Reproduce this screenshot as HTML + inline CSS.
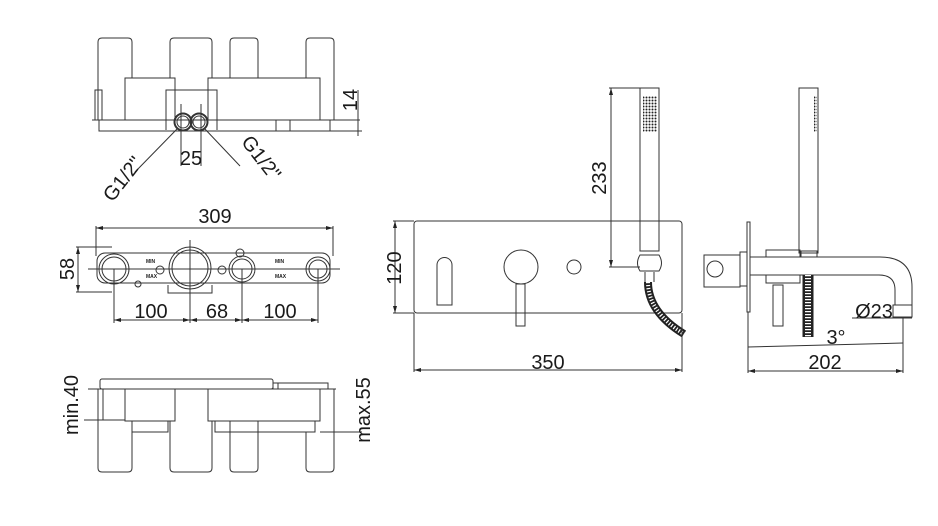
<!DOCTYPE html>
<html><head><meta charset="utf-8"><style>
html,body{margin:0;padding:0;background:#fff}
svg{display:block}
text{font-family:"Liberation Sans",sans-serif;fill:#1a1a1a}
</style></head><body>
<svg width="938" height="526" viewBox="0 0 938 526" xmlns="http://www.w3.org/2000/svg">
<defs>
<pattern id="dots" width="3" height="3" patternUnits="userSpaceOnUse"><circle cx="1.5" cy="1.5" r="1" fill="#222"/></pattern>
</defs>
<g fill="none" stroke="#333" stroke-width="1">
<!-- TOP VIEW -->
<path d="M98,120 V42 q0,-4 4,-4 h26 q4,0 4,4 V78"/>
<path d="M170,78 V42 q0,-4 4,-4 h34 q4,0 4,4 V78"/>
<path d="M230,78 V42 q0,-4 4,-4 h20 q4,0 4,4 V78"/>
<path d="M306,78 V42 q0,-4 4,-4 h20 q4,0 4,4 V120"/>
<rect x="125" y="78" width="50" height="42"/>
<rect x="208" y="78" width="112" height="42"/>
<path d="M166,130 V90 h51 V130"/>
<rect x="95" y="90" width="7" height="30"/>
<rect x="99" y="120" width="231" height="11"/>
<rect x="276" y="120" width="14" height="11"/>
<line x1="92" y1="120" x2="360" y2="120"/>
<circle cx="183" cy="122" r="8.5" stroke-width="2"/><circle cx="183" cy="122" r="6"/>
<circle cx="199" cy="122" r="8.5" stroke-width="2"/><circle cx="199" cy="122" r="6"/>
<line x1="181" y1="104" x2="181" y2="166"/><line x1="201" y1="104" x2="201" y2="166"/>
<line x1="178" y1="128" x2="135" y2="172"/><line x1="204" y1="128" x2="240" y2="166"/>
<line x1="358" y1="90" x2="358" y2="136"/>
<line x1="330" y1="131" x2="362" y2="131"/>
<!-- MIDDLE VIEW -->
<rect x="97" y="253" width="233" height="30" rx="8"/>
<circle cx="114" cy="269" r="15"/><circle cx="114" cy="269" r="12"/>
<circle cx="190" cy="268" r="21"/><circle cx="190" cy="268" r="18"/>
<circle cx="242" cy="269" r="13"/><circle cx="242" cy="269" r="10"/>
<circle cx="318" cy="269" r="12"/><circle cx="318" cy="269" r="9"/>
<circle cx="160" cy="270" r="4"/><circle cx="222" cy="270" r="4"/>
<circle cx="240" cy="253" r="4"/><circle cx="138" cy="284" r="3"/>
<path d="M168,285 v8 h44 v-8"/>
<line x1="88" y1="269" x2="340" y2="269"/>
<line x1="96" y1="228" x2="333" y2="228"/>
<line x1="96" y1="226" x2="96" y2="256"/><line x1="333" y1="226" x2="333" y2="256"/>
<line x1="78" y1="247" x2="78" y2="292"/>
<line x1="76" y1="247" x2="112" y2="247"/><line x1="76" y1="292" x2="112" y2="292"/>
<line x1="114" y1="269" x2="114" y2="323"/><line x1="190" y1="240" x2="190" y2="323"/>
<line x1="242" y1="269" x2="242" y2="323"/><line x1="318" y1="269" x2="318" y2="323"/>
<line x1="114" y1="320" x2="318" y2="320"/>
<!-- BOTTOM VIEW -->
<rect x="100" y="379" width="173" height="10" rx="2"/>
<path d="M273,389 V383 h5 V389 M278,383 h50 v6"/>
<line x1="88" y1="389" x2="336" y2="389"/>
<rect x="98" y="389" width="5" height="31"/>
<rect x="125" y="389" width="50" height="32"/>
<rect x="208" y="389" width="112" height="32"/>
<path d="M98,420 V468 q0,4 4,4 h26 q4,0 4,-4 V421"/>
<path d="M170,421 V468 q0,4 4,4 h34 q4,0 4,-4 V421"/>
<path d="M230,421 V468 q0,4 4,4 h20 q4,0 4,-4 V421"/>
<path d="M306,432 V468 q0,4 4,4 h20 q4,0 4,-4 V389"/>
<rect x="132" y="421" width="36" height="11"/>
<rect x="215" y="421" width="100" height="11"/>
<line x1="84" y1="420" x2="125" y2="420"/>
<line x1="320" y1="432" x2="362" y2="432"/>
<!-- FRONT VIEW -->
<rect x="414" y="221" width="268" height="92" rx="3"/>
<path d="M437,305 V265 a7.5,7.5 0 0 1 15,0 V305 Z"/>
<circle cx="521" cy="267" r="17"/>
<rect x="516" y="284" width="9" height="42"/>
<circle cx="574" cy="267" r="7"/>
<rect x="640" y="88" width="19" height="163"/>
<rect x="643" y="96" width="14" height="36" fill="url(#dots)" stroke="none"/>
<path d="M640,255 q-5,8 0,16 h19 q5,-8 0,-16 Z"/>
<path d="M645,272 v10 M654,272 v10"/>
<path d="M648,282 q0,30 36,52" stroke-width="8" stroke="#222"/>
<path d="M648,282 q0,30 36,52" stroke-width="4" stroke="#fff" stroke-dasharray="1.2,1.8"/>
<line x1="611" y1="88" x2="611" y2="267"/>
<line x1="609" y1="88" x2="640" y2="88"/><line x1="609" y1="267" x2="640" y2="267"/>
<line x1="395" y1="221" x2="395" y2="313"/>
<line x1="393" y1="221" x2="414" y2="221"/><line x1="393" y1="313" x2="414" y2="313"/>
<line x1="414" y1="313" x2="414" y2="372"/><line x1="682" y1="313" x2="682" y2="372"/>
<line x1="414" y1="370" x2="682" y2="370"/>
<!-- SIDE VIEW -->
<rect x="799" y="88" width="19" height="165"/>
<rect x="814" y="96" width="3" height="36" fill="url(#dots)" stroke="none"/>
<rect x="801" y="251" width="16" height="6"/>
<rect x="747" y="222" width="3" height="90"/>
<path d="M750,257 H880 q32,0 32,30 V305 H895 V290 q0,-15 -16,-15 H750"/>
<rect x="893" y="305" width="19" height="12"/>
<rect x="704" y="255" width="36" height="32"/>
<circle cx="715" cy="269" r="8"/>
<rect x="740" y="252" width="7" height="34"/>
<rect x="766" y="250" width="34" height="7"/><rect x="766" y="275" width="34" height="8"/>
<rect x="773" y="285" width="10" height="41"/>
<path d="M808,275 V337" stroke-width="11" stroke="#222"/>
<path d="M808,275 V337" stroke-width="6" stroke="#fff" stroke-dasharray="1.2,1.8"/>
<line x1="748" y1="312" x2="748" y2="373"/>
<line x1="748" y1="347" x2="903" y2="343"/>
<line x1="903" y1="318" x2="903" y2="373"/>
<line x1="852" y1="318" x2="912" y2="318"/>
<line x1="748" y1="371" x2="903" y2="371"/>
</g>
<g fill="#222">
<path d="M96,228 l7,-2 v4z M333,228 l-7,-2 v4z"/>
<path d="M114,320 l7,-2 v4z M190,320 l-7,-2 v4z M190,320 l7,-2 v4z M242,320 l-7,-2 v4z M242,320 l7,-2 v4z M318,320 l-7,-2 v4z"/>
<path d="M78,247 l-2,7 h4z M78,292 l-2,-7 h4z"/>
<path d="M611,88 l-2,7 h4z M611,267 l-2,-7 h4z M395,221 l-2,7 h4z M395,313 l-2,-7 h4z"/>
<path d="M414,370 l7,-2 v4z M682,370 l-7,-2 v4z M748,371 l7,-2 v4z M903,371 l-7,-2 v4z"/>
</g>
<g font-size="20">
<text x="215" y="223" text-anchor="middle">309</text>
<text x="151" y="318" text-anchor="middle">100</text>
<text x="217" y="318" text-anchor="middle">68</text>
<text x="280" y="318" text-anchor="middle">100</text>
<text x="191" y="165" text-anchor="middle">25</text>
<text transform="translate(74,269) rotate(-90)" text-anchor="middle">58</text>
<text transform="translate(357,100) rotate(-90)" text-anchor="middle">14</text>
<text transform="translate(128,183) rotate(-52)" text-anchor="middle">G1/2"</text>
<text transform="translate(256,162) rotate(52)" text-anchor="middle">G1/2"</text>
<text transform="translate(78,405) rotate(-90)" text-anchor="middle">min.40</text>
<text transform="translate(370,410) rotate(-90)" text-anchor="middle">max.55</text>
<text transform="translate(606,178) rotate(-90)" text-anchor="middle">233</text>
<text transform="translate(401,268) rotate(-90)" text-anchor="middle">120</text>
<text x="548" y="369" text-anchor="middle">350</text>
<text x="874" y="318" text-anchor="middle">Ø23</text>
<text x="836" y="344" text-anchor="middle">3°</text>
<text x="825" y="369" text-anchor="middle">202</text>
</g>
<g font-size="5" font-weight="bold">
<text x="146" y="263">MIN</text><text x="146" y="278">MAX</text>
<text x="275" y="263">MIN</text><text x="275" y="278">MAX</text>
</g>
</svg>
</body></html>
